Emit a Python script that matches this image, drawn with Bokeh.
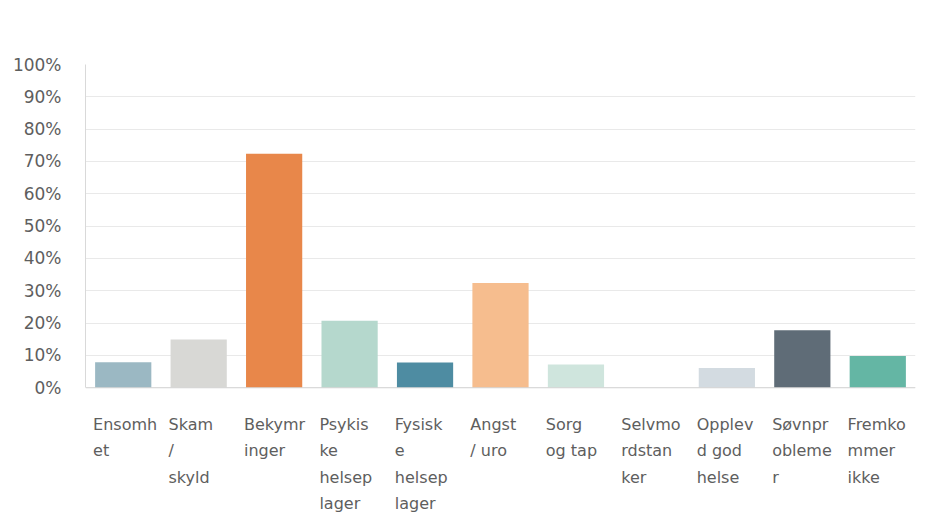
from bokeh.plotting import figure
from bokeh.models import ColumnDataSource, Range1d, FactorRange, FixedTicker, Span, NumeralTickFormatter
from bokeh.transform import dodge
from bokeh.core.properties import value
from bokeh.embed import file_html
from bokeh.resources import INLINE

categories = ["Ensomhet", "Skam / skyld", "Bekymringer", "Psykiske helseplager",
              "Fysiske helseplager", "Angst / uro", "Sorg og tap", "Selvmordstanker",
              "Opplevd god helse", "Søvnproblemer", "Fremkommer ikke"]
tick_labels = ["Ensomh\net", "Skam\n/\nskyld", "Bekymr\ninger", "Psykis\nke\nhelsep\nlager",
               "Fysisk\ne\nhelsep\nlager", "Angst\n/ uro", "Sorg\nog tap", "Selvmo\nrdstan\nker",
               "Opplev\nd god\nhelse", "Søvnpr\nobleme\nr", "Fremko\nmmer\nikke"]
percent = [7.9, 14.9, 72.4, 20.7, 7.8, 32.4, 7.2, 0.0, 6.1, 17.8, 9.8]
colors = ["#9bb8c3", "#d8d8d5", "#e8874a", "#b5d8cd", "#4e8ca2", "#f6bd8e",
          "#cfe5dd", "#f0c5a0", "#d3dbe1", "#5f6c77", "#64b6a4"]
y_ticks = [0.0, 0.1, 0.2, 0.3, 0.4, 0.5, 0.6, 0.7, 0.8, 0.9, 1.0]

src = ColumnDataSource(dict(cat=categories, val=[v / 100 for v in percent], color=colors,
                            label=tick_labels, ly=[-0.084] * len(categories)))

p = figure(x_range=FactorRange(factors=categories, range_padding=0),
           y_range=Range1d(-0.389, 1.0),
           width=920, height=513, output_backend="svg", toolbar_location=None,
           min_border_left=85, min_border_right=5, min_border_top=64, min_border_bottom=0)
p.outline_line_color = None
p.background_fill_color = "#ffffff"
p.border_fill_color = "#ffffff"

p.vbar(x="cat", top="val", bottom=0, width=0.745, fill_color="color", line_color=None, source=src)

p.text(x=dodge("cat", -0.40, range=p.x_range), y="ly", text="label", source=src,
       text_font=value("DejaVu Sans"), text_font_size="16px", text_color="#5e5e5e",
       text_align="left", text_baseline="top", text_line_height=1.39)

p.xaxis.visible = False
p.xgrid.visible = False

ax = p.yaxis[0]
ax.ticker = FixedTicker(ticks=y_ticks)
ax.formatter = NumeralTickFormatter(format="0%")
ax.bounds = (0, 1)
ax.axis_line_color = "#d9d9d9"
ax.major_tick_line_color = None
ax.minor_tick_line_color = None
ax.major_label_standoff = 18
ax.major_label_text_font = "DejaVu Sans"
ax.major_label_text_font_size = "17px"
ax.major_label_text_color = "#5e5e5e"

p.ygrid.ticker = FixedTicker(ticks=y_ticks)
p.ygrid.grid_line_color = "#e9e9e9"
p.ygrid.bounds = (0, 1)

p.add_layout(Span(location=0, dimension="width", line_color="#d4d4d4", line_width=1))

open("out.html", "w").write(file_html(p, INLINE))
